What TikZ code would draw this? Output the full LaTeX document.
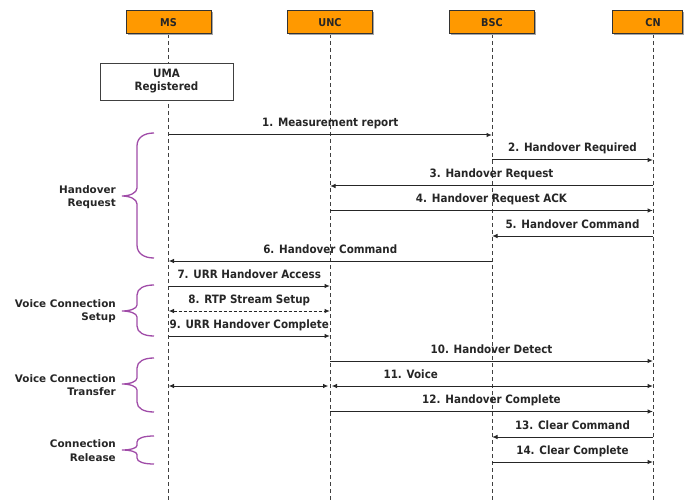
\documentclass[tikz,border=0pt]{standalone}
\usepackage{fontspec}
\setmainfont{DejaVu Sans}
\newfontfamily\msgfont{DejaVu Sans Condensed}
\usetikzlibrary{arrows.meta,shadows}
\definecolor{hdrorange}{HTML}{FF9900}
\definecolor{bracepurple}{HTML}{A04CA8}
\newcommand\grpbrace[5]{%
  \draw[brc] (154,#1) .. controls (144,#1) and (137,#1+0.35*#4) .. (137,#1+#4)
    -- (137,#2-#5) .. controls (137,#2-0.4*#5) and (130,#2) .. (122,#2)
    .. controls (130,#2) and (137,#2+0.4*#5) .. (137,#2+#5)
    -- (137,#3-#4) .. controls (137,#3-0.35*#4) and (144,#3) .. (154,#3);}
\begin{document}
\begin{tikzpicture}[x=1pt,y=-1pt,
  hdr/.style={draw=black!80, line width=1pt, fill=hdrorange, minimum width=85pt,
    minimum height=23pt, inner sep=0pt, text=black!85,
    font=\msgfont\bfseries\fontsize{10.8}{12}\selectfont,
    drop shadow={shadow xshift=1.5pt, shadow yshift=-1.5pt, fill=black!35, opacity=1}},
  umabox/.style={draw=black!75, line width=0.9pt, fill=white, minimum width=133pt,
    minimum height=37pt, inner sep=0pt, align=center, text=black!85,
    font=\msgfont\bfseries\fontsize{11.5}{13}\selectfont,
    drop shadow={shadow xshift=1.2pt, shadow yshift=-1.2pt, fill=black!30, opacity=1}},
  life/.style={draw=black!75, line width=0.9pt, dash pattern=on 4pt off 3pt},
  msg/.style={draw=black!85, line width=1pt, -{Latex[length=5.5pt,width=4.5pt]}},
  bimsg/.style={draw=black!85, line width=1pt, {Latex[length=5.5pt,width=4.5pt]}-{Latex[length=5.5pt,width=4.5pt]}},
  lbl/.style={font=\msgfont\bfseries\fontsize{11.5}{13}\selectfont, text=black!85,
    inner sep=0pt, anchor=base, yshift=8pt},
  grp/.style={font=\bfseries\fontsize{10.4}{13.5}\selectfont, align=right,
    text=black!85, inner sep=0pt, anchor=east},
  brc/.style={draw=bracepurple, line width=1.3pt}
]
\useasboundingbox (0,0) rectangle (691,500);
% lifeline tops
\coordinate (msl) at (168.5,34);
\coordinate (uncl) at (330,34);
\coordinate (bscl) at (492,34);
\coordinate (cnl) at (653,34);
% lifelines
\foreach \c in {msl,uncl,bscl,cnl}
  \draw[life] (\c) -- (\c |- 0,500);
% headers
\node[hdr] (ms) at (168.5,22.5) {MS};
\node[hdr] (unc) at (330,22.5) {UNC};
\node[hdr] (bsc) at (492,22.5) {BSC};
\node[hdr, minimum width=70pt] (cn) at (647,22.5) {\hspace{12pt}CN};
% UMA box
\node[umabox] (uma) at (166.5,81.5) {UMA\\Registered};
% messages
\draw[msg] (msl |- 0,135) -- node[lbl]{1. Measurement report} (bscl |- 0,135);
\draw[msg] (bscl |- 0,160) -- node[lbl]{2. Handover Required} (cnl |- 0,160);
\draw[msg] (cnl |- 0,186) -- node[lbl]{3. Handover Request} (uncl |- 0,186);
\draw[msg] (uncl |- 0,210.5) -- node[lbl]{4. Handover Request ACK} (cnl |- 0,210.5);
\draw[msg] (cnl |- 0,236) -- node[lbl]{5. Handover Command} (bscl |- 0,236);
\draw[msg] (bscl |- 0,261) -- node[lbl]{6. Handover Command} (msl |- 0,261);
\draw[msg] (msl |- 0,286) -- node[lbl]{7. URR Handover Access} (uncl |- 0,286);
\draw[bimsg, dash pattern=on 3pt off 2pt] (msl |- 0,311) -- node[lbl]{8. RTP Stream Setup} (uncl |- 0,311);
\draw[msg] (msl |- 0,336) -- node[lbl]{9. URR Handover Complete} (uncl |- 0,336);
\draw[msg] (uncl |- 0,361) -- node[lbl]{10. Handover Detect} (cnl |- 0,361);
\draw[bimsg, shorten >=1.5pt] (msl |- 0,386) -- (uncl |- 0,386);
\draw[bimsg, shorten <=1.5pt] (uncl |- 0,386) -- (cnl |- 0,386);
\path (msl |- 0,386) -- node[lbl]{11. Voice} (cnl |- 0,386);
\draw[msg] (uncl |- 0,411.5) -- node[lbl]{12. Handover Complete} (cnl |- 0,411.5);
\draw[msg] (cnl |- 0,437) -- node[lbl]{13. Clear Command} (bscl |- 0,437);
\draw[msg] (bscl |- 0,462) -- node[lbl]{14. Clear Complete} (cnl |- 0,462);
% group braces
\grpbrace{133}{196}{258}{13}{8}
\grpbrace{285}{311}{336}{10}{6}
\grpbrace{358}{384}{412}{10}{6}
\grpbrace{436}{450}{464}{6}{4.5}
% group labels
\node[grp] (g1) at (116,197) {Handover\\Request};
\node[grp] (g2) at (116,311) {Voice Connection\\Setup};
\node[grp] (g3) at (116,385) {Voice Connection\\Transfer};
\node[grp] (g4) at (116,450.5) {Connection\\Release};
\end{tikzpicture}
\end{document}
